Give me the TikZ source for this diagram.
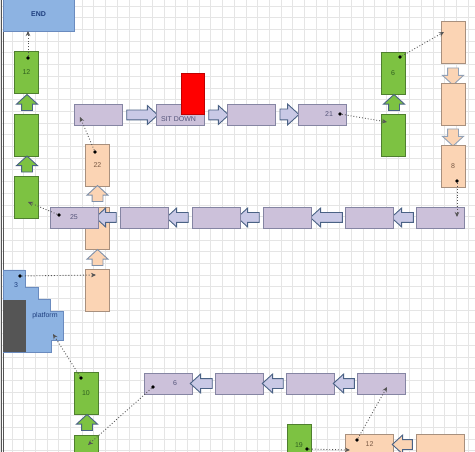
\documentclass[tikz,border=0pt]{standalone}
\usepackage{fontspec}
\setmainfont{Liberation Sans}
\usetikzlibrary{arrows.meta,shapes.arrows}

\definecolor{lav}{HTML}{CCC1DA}
\definecolor{lavline}{HTML}{8585A3}
\definecolor{lavtext}{HTML}{55557A}
\definecolor{arrfill}{HTML}{C9C9E6}
\definecolor{arrline}{HTML}{4A6285}
\definecolor{grn}{HTML}{7DC242}
\definecolor{grnline}{HTML}{4F7F2F}
\definecolor{grntext}{HTML}{2F5F1F}
\definecolor{pch}{HTML}{FBD4B4}
\definecolor{pchline}{HTML}{A8907E}
\definecolor{pchtext}{HTML}{7A5A45}
\definecolor{blu}{HTML}{8DB3E2}
\definecolor{bluline}{HTML}{6A8BBF}
\definecolor{blutext}{HTML}{1F3F7F}
\definecolor{dkgray}{HTML}{555555}

\begin{document}
\begin{tikzpicture}[
  x=1pt,y=-1pt,font=\fontsize{7}{8}\selectfont,>={Stealth[length=5pt,width=4.5pt]},
  gridline/.style={draw=black!10,line width=0.4pt},
  hbox/.style={draw=lavline,fill=lav,line width=0.6pt,minimum width=48pt,minimum height=21pt,inner sep=0pt,text=lavtext},
  gbox/.style={draw=grnline,fill=grn,line width=0.6pt,minimum width=24pt,minimum height=42pt,inner sep=0pt,text=grntext},
  pbox/.style={draw=pchline,fill=pch,line width=0.6pt,minimum width=24pt,minimum height=42pt,inner sep=0pt,text=pchtext},
  pbar/.style={pbox,minimum width=48pt,minimum height=21pt},
  blk/.style={single arrow,draw=arrline,line width=0.9pt,inner sep=0pt,inner ysep=4.5pt,single arrow head extend=4.5pt,single arrow tip angle=85},
  lavR/.style={blk,fill=arrfill,minimum height=#1},
  lavL/.style={blk,fill=arrfill,minimum height=#1,rotate=180},
  grnU/.style={blk,fill=grn,minimum height=16pt,inner ysep=5pt,single arrow head extend=5pt,single arrow tip angle=95,rotate=90},
  pchU/.style={blk,fill=pch,draw=arrline!70,minimum height=16pt,inner ysep=5pt,single arrow head extend=5pt,single arrow tip angle=95,rotate=90},
  pchD/.style={blk,fill=pch,draw=arrline!60,minimum height=17pt,inner ysep=5pt,single arrow head extend=5pt,single arrow tip angle=95,rotate=-90},
  pin/.style={circle,fill=black,inner sep=0pt,minimum size=3.6pt},
  link/.style={->,dotted,draw=dkgray,line width=0.9pt}
]
\clip (0,0) rectangle (475,452);
\fill[white] (0,0) rectangle (475,452);
\foreach \gx in {0,...,40} \draw[gridline] (\gx*11.7,0) -- (\gx*11.7,452);
\foreach \gy in {0,...,38} \draw[gridline] (0,\gy*11.7+5.85) -- (475,\gy*11.7+5.85);
\draw[dkgray,line width=0.6pt] (1,0) -- (1,452);
\draw[dkgray,line width=0.6pt] (3.5,0) -- (3.5,452);

% end
\node[draw=bluline,fill=blu,minimum width=71pt,minimum height=33pt,inner sep=0pt,text=blutext,font=\fontsize{7}{8}\selectfont\bfseries] (endb) at (38.5,14.5) {END};

% left green column
\node[gbox] (g12) at (26.5,72.5) {12};
\node[grnU] (gu1) at (27,105) {};
\node[gbox] (g2) at (26.5,135) {};
\node[grnU] (gu2) at (27,166.5) {};
\node[gbox] (g3) at (26.5,197) {};

% top row
\node[hbox] (t1) at (98,114.5) {};
\node[lavR=31pt] (ta1) at (139.5,115) {};
\node[hbox,label={[text=lavtext,yshift=-4.5pt,xshift=-2pt]center:SIT DOWN}] (sit) at (180.5,114.5) {};
\node[draw=red!75!black,fill=red,minimum width=23pt,minimum height=41pt,inner sep=0pt] (chair) at (192.5,93.5) {};
\node[lavR=20pt] (ta2) at (216,115) {};
\node[hbox] (t3) at (251,114.5) {};
\node[lavR=19pt,inner ysep=5pt,single arrow head extend=5pt] (ta3) at (286.5,114.5) {};
\node[hbox] (t21) at (322,114.5) {\hspace*{14pt}21};

% right green column
\node[gbox] (g6) at (393,73) {6};
\node[grnU] (gu3) at (394,105) {};
\node[gbox] (g7) at (393,135) {};

% right peach column
\node[pbox] (p1) at (453,42) {};
\node[pchD] (pd1) at (453,74) {};
\node[pbox] (p2) at (453,104) {};
\node[pchD] (pd2) at (453,135) {};
\node[pbox] (p8) at (453,166) {8};

% center peach column
\node[pbox] (p22) at (97.5,165.5) {22};
\node[pchU] (pu1) at (97.5,196) {};
\node[pbox] (pmid) at (97.5,228) {};
\node[pchU] (pu2) at (97.5,260) {};
\node[pbox] (plow) at (97.5,290) {};

% middle row
\node[hbox] (m1) at (440.5,217.5) {};
\node[lavL=22pt] (ma1) at (405,217.5) {};
\node[hbox] (m2) at (369.5,217.5) {};
\node[lavL=32pt] (ma2) at (329,217.5) {};
\node[hbox] (m3) at (287,217.5) {};
\node[lavL=22pt] (ma3) at (251,217.5) {};
\node[hbox] (m4) at (216,217.5) {};
\node[lavL=22pt] (ma4) at (180,217.5) {};
\node[hbox] (m5) at (144.5,217.5) {};
\node[lavL=21pt] (ma5) at (108.5,217.5) {};
\node[hbox] (m25) at (74,217.5) {25};

% platform
\draw[draw=bluline,fill=blu,line width=0.6pt] (3,270) -- (25,270) -- (25,287) -- (38,287) -- (38,299) -- (50,299) -- (50,311) -- (63,311) -- (63,340) -- (51,340) -- (51,352) -- (3,352) -- cycle;
\fill[dkgray] (3,300) rectangle (26,352);
\node[text=blutext] (n3) at (16,285) {3};
\node[text=blutext] (plat) at (45,316) {platform};

% bottom left green column
\node[gbox] (g10) at (86,393.5) {10};
\node[grnU] (gu4) at (87,425) {};
\node[gbox] (g11) at (86,456) {};

% bottom row
\node[hbox] (b6) at (168.5,383.5) {\hspace*{13pt}6};
\node[lavL=22pt] (ba1) at (204,383.5) {};
\node[hbox] (b2) at (239.5,383.5) {};
\node[lavL=21pt] (ba2) at (275.5,383.5) {};
\node[hbox] (b3) at (310.5,383.5) {};
\node[lavL=21pt] (ba3) at (346.5,383.5) {};
\node[hbox] (b4) at (381.5,383.5) {};

% bottom corner
\node[gbox] (g19) at (299,445) {19};
\node[pbar] (p12) at (369.5,444.5) {12};
\node[lavL=20pt,fill=pch] (pa1) at (405,444.5) {};
\node[pbar] (p13) at (440.5,444.5) {};

% pins and targets
\node[pin] (d12) at (28,58) {};
\node[pin] (d22) at (95,152) {};
\node[pin] (d21) at (340,114) {};
\node[pin] (d6) at (400,57) {};
\node[pin] (d8) at (457,181) {};
\node[pin] (d25) at (59,215) {};
\node[pin] (d3) at (20,276) {};
\node[pin] (d10) at (81,378) {};
\node[pin] (db6) at (153,387) {};
\node[pin] (dp12) at (357,440) {};
\node[pin] (d19) at (307,449) {};
\coordinate (xEnd) at (28,31);
\coordinate (xT1) at (80,117);
\coordinate (xG7) at (387,122);
\coordinate (xP1) at (444,32);
\coordinate (xM1) at (457,217);
\coordinate (xG3) at (28,202);
\coordinate (xLow) at (96,275);
\coordinate (xPlat) at (53,334);
\coordinate (xG11) at (88,445);
\coordinate (xB4) at (387,387);
\coordinate (xP12) at (350,450);

\draw[link] (d12) -- (xEnd);
\draw[link] (d22) -- (xT1);
\draw[link] (d21) -- (xG7);
\draw[link] (d6) -- (xP1);
\draw[link] (d8) -- (xM1);
\draw[link] (d25) -- (xG3);
\draw[link] (d3) -- (xLow);
\draw[link] (d10) -- (xPlat);
\draw[link] (db6) -- (xG11);
\draw[link] (dp12) -- (xB4);
\draw[link] (d19) -- (xP12);
\end{tikzpicture}
\end{document}
